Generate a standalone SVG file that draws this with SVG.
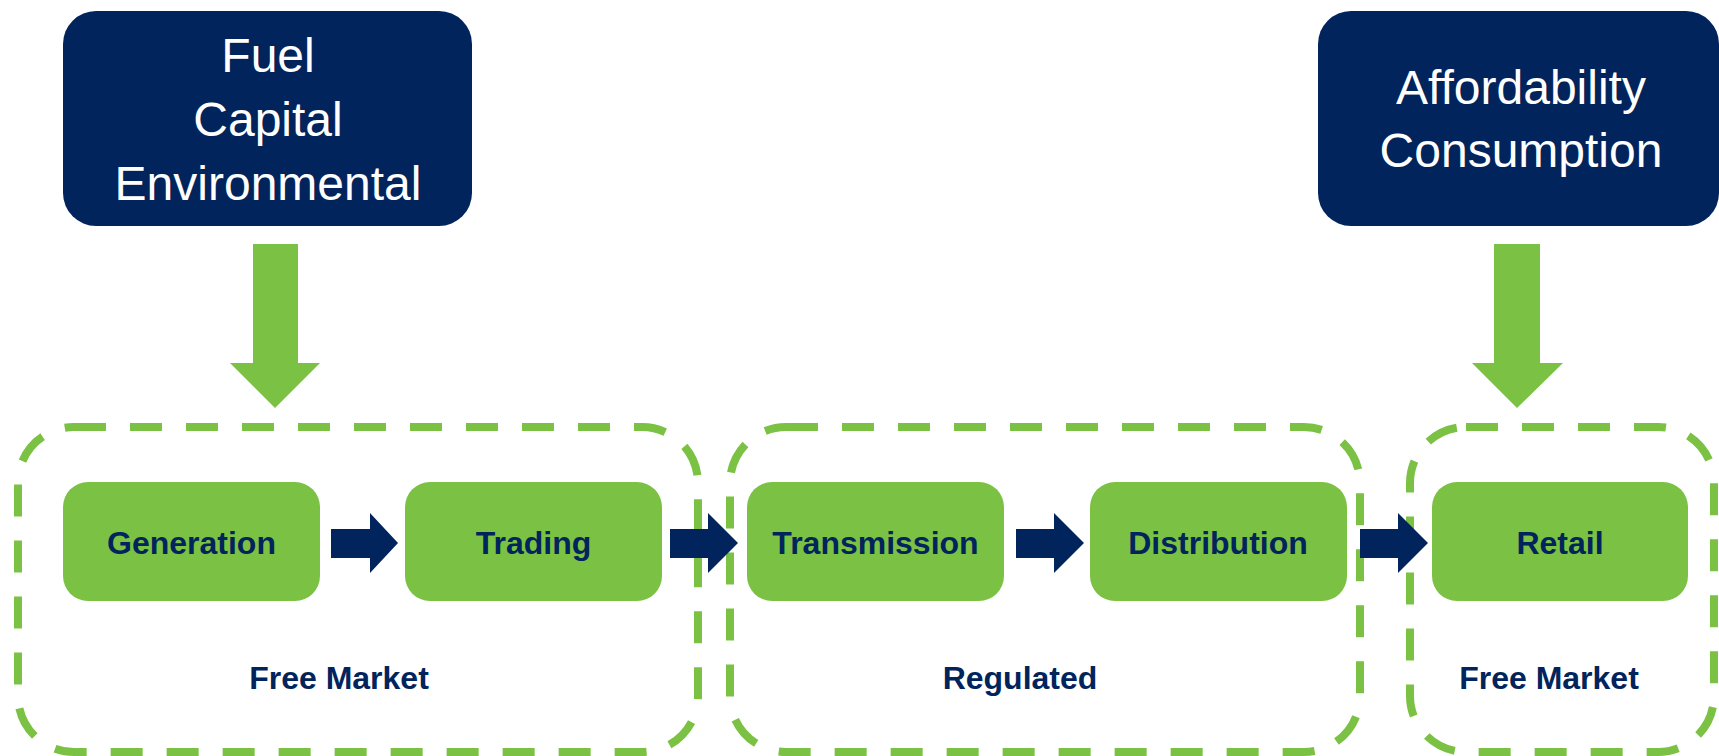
<svg xmlns="http://www.w3.org/2000/svg" width="1719" height="756" viewBox="0 0 1719 756">
<style>
.dark{fill:#02245C}
.tw{fill:#ffffff;font-family:"Liberation Sans",Arial,sans-serif;font-size:48px;text-anchor:middle}
.step{fill:#7BC143}
.tb{fill:#02245C;font-family:"Liberation Sans",Arial,sans-serif;font-size:32px;font-weight:bold;text-anchor:middle}
.zone{fill:none;stroke:#7BC143;stroke-width:8;stroke-dasharray:32 24}
.garrow{fill:#7BC143}
.narrow{fill:#02245C}
</style>
<rect width="1719" height="756" fill="#ffffff"/>
<g id="zones">
<rect id="zone-free-market-1" class="zone" x="18" y="427" width="680" height="325" rx="56"/>
<rect id="zone-regulated" class="zone" x="730" y="427" width="630" height="325" rx="56"/>
<rect id="zone-free-market-2" class="zone" x="1410" y="427" width="304" height="325" rx="56"/>
<text class="tb" x="339" y="689">Free Market</text>
<text class="tb" x="1020" y="689">Regulated</text>
<text class="tb" x="1549" y="689">Free Market</text>
</g>
<g id="costs">
<rect class="dark" x="63" y="11" width="409" height="215" rx="33"/>
<text class="tw" x="268" y="72">Fuel</text>
<text class="tw" x="268" y="136">Capital</text>
<text class="tw" x="268" y="200">Environmental</text>
</g>
<g id="demand">
<rect class="dark" x="1318" y="11" width="401" height="215" rx="33"/>
<text class="tw" x="1521" y="104">Affordability</text>
<text class="tw" x="1521" y="167">Consumption</text>
</g>
<g id="generation">
<rect class="step" x="63" y="482" width="257" height="119" rx="25"/>
<text class="tb" x="191.5" y="554">Generation</text>
</g>
<g id="trading">
<rect class="step" x="405" y="482" width="257" height="119" rx="25"/>
<text class="tb" x="533.5" y="554">Trading</text>
</g>
<g id="transmission">
<rect class="step" x="747" y="482" width="257" height="119" rx="25"/>
<text class="tb" x="875.5" y="554">Transmission</text>
</g>
<g id="distribution">
<rect class="step" x="1090" y="482" width="257" height="119" rx="25"/>
<text class="tb" x="1218" y="554">Distribution</text>
</g>
<g id="retail">
<rect class="step" x="1432" y="482" width="256" height="119" rx="25"/>
<text class="tb" x="1560" y="554">Retail</text>
</g>
<g id="connectors">
<polygon class="garrow" points="253,244 298,244 298,363 320,363 275,408 230,363 253,363"/>
<polygon class="garrow" points="1494,244 1540,244 1540,363 1563,363 1517,408 1472,363 1494,363"/>
<polygon class="narrow" points="331,529 370,529 370,513 398,543 370,573 370,558 331,558"/>
<polygon class="narrow" points="670,529 708,529 708,513 738,543 708,573 708,558 670,558"/>
<polygon class="narrow" points="1016,529 1054,529 1054,513 1084,543 1054,573 1054,558 1016,558"/>
<polygon class="narrow" points="1360,529 1398,529 1398,513 1428,543 1398,573 1398,558 1360,558"/>
</g>
</svg>
